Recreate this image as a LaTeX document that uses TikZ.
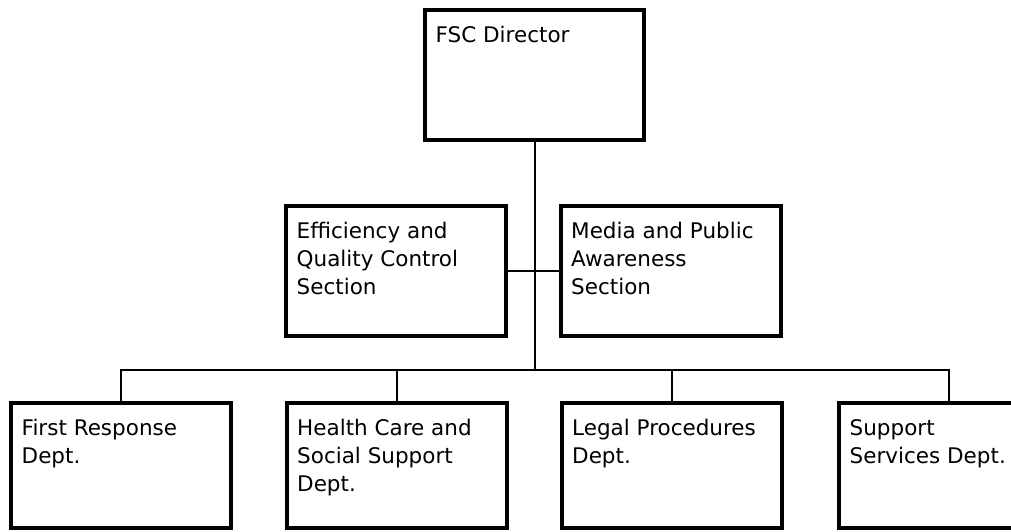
\documentclass[tikz,border=0pt]{standalone}
\usepackage{fontspec}
\setmainfont{DejaVu Sans}
\usetikzlibrary{%
  positioning,%
  calc,%
}

\tikzset{
  unitbox/.style={draw, line width=4pt, minimum width=220pt, minimum height=130pt, inner sep=0pt},
  lowbox/.style={unitbox, minimum height=125pt},
  unittext/.style={anchor=north west, align=left, inner sep=0pt, xshift=12.5pt, yshift=-18pt,
    font=\fontsize{21.5}{28}\selectfont},
  link/.style={line width=2pt},
}

\begin{document}
\begin{tikzpicture}[x=1pt,y=-1pt]
    \useasboundingbox (0,0) rectangle (1011,532);
    % top
    \node[unitbox, minimum width=219pt] (fsc) at (534.5,75) {};
    \node[unittext] (fsct) at (fsc.north west) {FSC Director};
    % sections
    \node[unitbox] (eqc) at (396,271) {};
    \node[unittext] (eqct) at (eqc.north west) {Efficiency and\\Quality Control\\Section};
    \node[unitbox] (mpa) at (670.5,271) {};
    \node[unittext] (mpat) at (mpa.north west) {Media and Public\\Awareness\\Section};
    % departments
    \node[lowbox] (frd) at (121,465.5) {};
    \node[unittext] (frdt) at (frd.north west) {First Response\\Dept.};
    \node[lowbox] (hcd) at (396.5,465.5) {};
    \node[unittext] (hcdt) at (hcd.north west) {Health Care and\\Social Support\\Dept.};
    \node[lowbox] (lpd) at (671.5,465.5) {};
    \node[unittext] (lpdt) at (lpd.north west) {Legal Procedures\\Dept.};
    \node[lowbox] (ssd) at (949,465.5) {};
    \node[unittext] (ssdt) at (ssd.north west) {Support\\Services Dept.};
    % connectors
    \coordinate (bus) at (534.5,370);
    \draw[link] (fsc.south) -- (bus);
    \draw[link] (eqc.east) -- (mpa.west);
    \draw[link] (frd.north) |- (bus) -| (ssd.north);
    \draw[link] (hcd.north) -- (hcd.north |- bus);
    \draw[link] (lpd.north) -- (lpd.north |- bus);
\end{tikzpicture}
\end{document}
